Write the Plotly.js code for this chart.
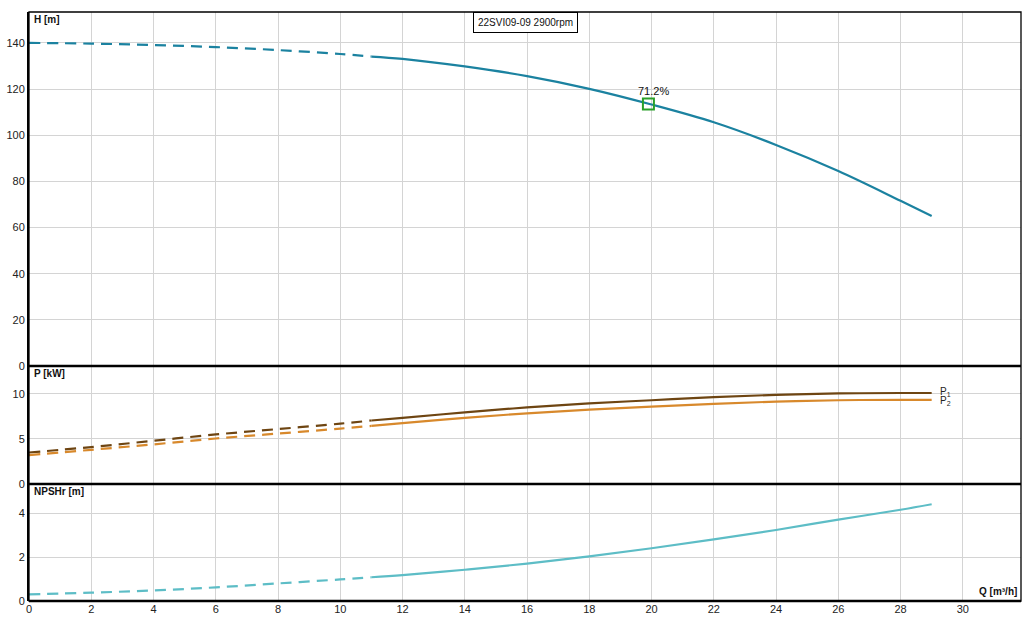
<!DOCTYPE html>
<html>
<head>
<meta charset="utf-8">
<script src="https://cdn.plot.ly/plotly-3.0.1.min.js"></script>
<style>
  html, body { margin: 0; padding: 0; background: white; }
  #chart { width: 1034px; height: 632px; }
</style>
</head>
<body>
<div id="chart"></div>
<script>
// flow Q [m3/h], dashed part (below min flow) and solid part
const qDashed = [0, 2, 4, 6, 8, 10, 11];
const qSolid = [11, 12, 14, 16, 18, 20, 22, 24, 26, 28, 29];

const headDashed = [140, 139.7, 139.1, 138.2, 136.9, 135.2, 134.1];
const headSolid = [134.1, 133.1, 129.8, 125.6, 120.1, 113.3, 105.6, 95.8, 84.5, 71.6, 65];

const p1Dashed = [3.5, 4.1, 4.8, 5.5, 6.1, 6.7, 7.05];
const p1Solid = [7.05, 7.35, 7.95, 8.5, 8.95, 9.3, 9.65, 9.9, 10.05, 10.1, 10.1];

const p2Dashed = [3.2, 3.8, 4.4, 5.05, 5.6, 6.15, 6.45];
const p2Solid = [6.45, 6.75, 7.35, 7.85, 8.25, 8.6, 8.9, 9.15, 9.3, 9.35, 9.35];

const npshDashed = [0.3, 0.38, 0.48, 0.62, 0.8, 0.98, 1.08];
const npshSolid = [1.08, 1.18, 1.42, 1.7, 2.03, 2.4, 2.8, 3.23, 3.7, 4.15, 4.4];

const dutyQ = [19.9];
const dutyH = [113.5];
const dutyLabel = "71.2%";

const xTicks = [0, 2, 4, 6, 8, 10, 12, 14, 16, 18, 20, 22, 24, 26, 28, 30];

const HEAD_COLOR = "#1b82a0";
const P1_COLOR = "#6e4512";
const P2_COLOR = "#d8892c";
const NPSH_COLOR = "#5dbdc6";
const GRID = "#d4d4d4";
const DASH = "11px,7px";

function line(x, y, color, dashed, xaxis, yaxis, width = 2.2) {
  return {
    x: x,
    y: y,
    type: "scatter",
    mode: "lines",
    xaxis: xaxis,
    yaxis: yaxis,
    hoverinfo: "x+y",
    line: { color: color, width: width, dash: dashed ? DASH : "solid", shape: "spline" },
    showlegend: false,
  };
}

const data = [
  line(qDashed, headDashed, HEAD_COLOR, true, "x", "y"),
  line(qSolid, headSolid, HEAD_COLOR, false, "x", "y"),
  {
    x: dutyQ,
    y: dutyH,
    type: "scatter",
    mode: "markers",
    xaxis: "x",
    yaxis: "y",
    marker: { symbol: "square-open", size: 11, color: "#2aa02a", line: { width: 2 } },
    showlegend: false,
  },
  line(qDashed, p1Dashed, P1_COLOR, true, "x2", "y2"),
  line(qSolid, p1Solid, P1_COLOR, false, "x2", "y2"),
  line(qDashed, p2Dashed, P2_COLOR, true, "x2", "y2"),
  line(qSolid, p2Solid, P2_COLOR, false, "x2", "y2"),
  line(qDashed, npshDashed, NPSH_COLOR, true, "x3", "y3"),
  line(qSolid, npshSolid, NPSH_COLOR, false, "x3", "y3"),
];

const font = { family: "Liberation Sans, Arial, sans-serif", size: 11, color: "#222" };
const labelFont = { ...font, size: 10, color: "#111" };

function xAxis(anchor, showLabels) {
  return {
    anchor: anchor,
    range: [0, 31.87],
    tickvals: xTicks,
    showticklabels: showLabels,
    gridcolor: GRID,
    gridwidth: 1,
    zeroline: false,
    showline: false,
    ticks: "",
    fixedrange: true,
    tickfont: font,
  };
}

function yAxis(domain, range, dtick) {
  return {
    domain: domain,
    range: range,
    dtick: dtick,
    tick0: 0,
    gridcolor: GRID,
    zeroline: false,
    showline: true,
    linecolor: "black",
    linewidth: 2,
    ticks: "",
    tickfont: font,
    fixedrange: true,
  };
}

const topBottom = 0.399;
const midBottom = 0.1986;

const layout = {
  width: 1034,
  height: 632,
  margin: { t: 12, b: 31, l: 29, r: 13 },
  paper_bgcolor: "white",
  plot_bgcolor: "white",
  font: font,
  showlegend: false,
  xaxis: xAxis("y", false),
  xaxis2: xAxis("y2", false),
  xaxis3: xAxis("y3", true),
  yaxis: yAxis([topBottom, 1], [0, 153.4], 20),
  yaxis2: yAxis([midBottom, topBottom], [0, 13.1], 5),
  yaxis3: yAxis([0, midBottom], [0, 5.32], 2),
  shapes: [
    {
      type: "rect", xref: "paper", yref: "paper", x0: 0, x1: 1, y0: 0, y1: 1,
      line: { color: "black", width: 1.3 },
    },
    {
      type: "line", xref: "paper", yref: "paper", x0: 0, x1: 1, y0: topBottom, y1: topBottom,
      line: { color: "black", width: 2.5 },
    },
    {
      type: "line", xref: "paper", yref: "paper", x0: 0, x1: 1, y0: midBottom, y1: midBottom,
      line: { color: "black", width: 2.5 },
    },
    {
      type: "line", xref: "paper", yref: "paper", x0: 0, x1: 1, y0: 0, y1: 0,
      line: { color: "black", width: 2.5 },
    },
  ],
  annotations: [
    {
      xref: "paper", yref: "paper", x: 0.003, y: 1, xanchor: "left", yanchor: "top",
      text: "<b>H [m]</b>", showarrow: false, font: labelFont,
    },
    {
      xref: "paper", yref: "paper", x: 0.003, y: topBottom, xanchor: "left", yanchor: "top",
      text: "<b>P [kW]</b>", showarrow: false, font: labelFont,
    },
    {
      xref: "paper", yref: "paper", x: 0.003, y: midBottom, xanchor: "left", yanchor: "top",
      text: "<b>NPSHr [m]</b>", showarrow: false, font: labelFont,
    },
    {
      xref: "paper", yref: "paper", x: 0.998, y: 0.003, xanchor: "right", yanchor: "bottom",
      text: "<b>Q [m³/h]</b>", showarrow: false, font: labelFont,
    },
    {
      xref: "paper", yref: "paper", x: 0.5, y: 1, xanchor: "center", yanchor: "top",
      text: "22SVI09-09 2900rpm", showarrow: false, font: labelFont,
      bordercolor: "black", borderwidth: 1, borderpad: 4, bgcolor: "white",
    },
    {
      xref: "x", yref: "y", x: dutyQ[0], y: dutyH[0], yshift: 13, xshift: 5, xanchor: "center",
      text: dutyLabel, showarrow: false, font: { ...font, size: 11, color: "#111" },
    },
    {
      xref: "x2", yref: "y2", x: qSolid[qSolid.length - 1], y: p1Solid[p1Solid.length - 1],
      xshift: 6, yshift: 1, xanchor: "left", yanchor: "middle",
      text: "P<sub>1</sub>", showarrow: false, font: { ...font, size: 10 },
    },
    {
      xref: "x2", yref: "y2", x: qSolid[qSolid.length - 1], y: p2Solid[p2Solid.length - 1],
      xshift: 6, yshift: -1, xanchor: "left", yanchor: "middle",
      text: "P<sub>2</sub>", showarrow: false, font: { ...font, size: 10 },
    },
  ],
};

Plotly.newPlot("chart", data, layout, { staticPlot: true, displayModeBar: false });
</script>
</body>
</html>
